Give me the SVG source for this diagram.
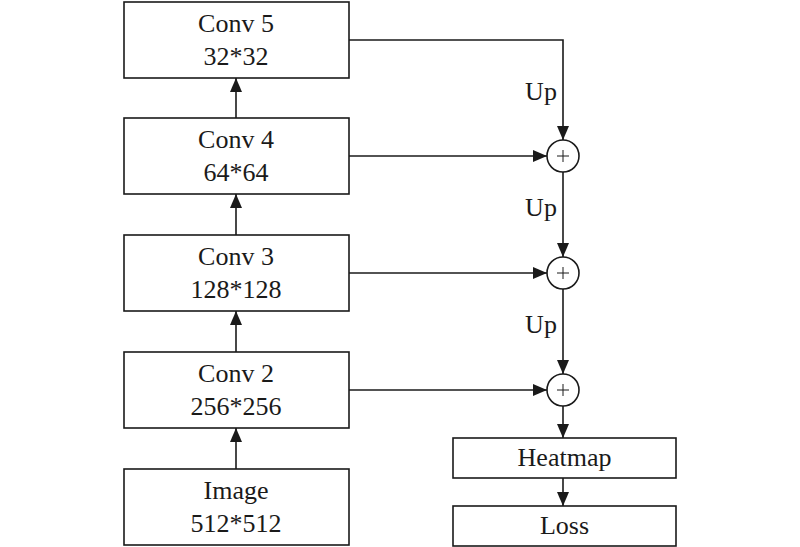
<svg xmlns="http://www.w3.org/2000/svg" width="800" height="547" viewBox="0 0 800 547">
<defs>
<style>
.box{fill:#fff;stroke:#1a1a1a;stroke-width:1.6}
.t{font-family:"Liberation Serif","Times New Roman",serif;font-size:26px;fill:#1a1a1a;text-anchor:middle}
.ln{fill:none;stroke:#1a1a1a;stroke-width:1.6}
.pl{fill:none;stroke:#1a1a1a;stroke-width:1}
</style>
<marker id="ah" viewBox="0 0 14 12" refX="14" refY="6" markerWidth="14" markerHeight="12" markerUnits="userSpaceOnUse" orient="auto">
<path d="M0,0 L14,6 L0,12 Z" fill="#1a1a1a"/>
</marker>
</defs>
<rect width="800" height="547" fill="#fff"/>
<g id="conv5"><rect class="box" x="124" y="2" width="225" height="76"/><text class="t" x="236" y="32">Conv 5</text><text class="t" x="236" y="65">32*32</text></g>
<g id="conv4"><rect class="box" x="124" y="118" width="225" height="76"/><text class="t" x="236" y="148">Conv 4</text><text class="t" x="236" y="181">64*64</text></g>
<g id="conv3"><rect class="box" x="124" y="235" width="225" height="76"/><text class="t" x="236" y="265">Conv 3</text><text class="t" x="236" y="298">128*128</text></g>
<g id="conv2"><rect class="box" x="124" y="352" width="225" height="76"/><text class="t" x="236" y="382">Conv 2</text><text class="t" x="236" y="415">256*256</text></g>
<g id="image"><rect class="box" x="124" y="469" width="225" height="76"/><text class="t" x="236" y="499">Image</text><text class="t" x="236" y="532">512*512</text></g>
<g id="add1"><circle class="ln" cx="563" cy="156" r="16" fill="#fff"/><path class="pl" d="M557,156 H569 M563,150 V162"/></g>
<g id="add2"><circle class="ln" cx="563" cy="273" r="16" fill="#fff"/><path class="pl" d="M557,273 H569 M563,267 V279"/></g>
<g id="add3"><circle class="ln" cx="563" cy="390" r="16" fill="#fff"/><path class="pl" d="M557,390 H569 M563,384 V396"/></g>
<g id="heatmap"><rect class="box" x="453" y="438" width="223" height="40"/><text class="t" x="564.5" y="466">Heatmap</text></g>
<g id="loss"><rect class="box" x="453" y="506" width="223" height="40"/><text class="t" x="564.5" y="534">Loss</text></g>
<g id="connectors">
<path class="ln" d="M236,469 V428" marker-end="url(#ah)"/>
<path class="ln" d="M236,352 V311" marker-end="url(#ah)"/>
<path class="ln" d="M236,235 V194" marker-end="url(#ah)"/>
<path class="ln" d="M236,118 V78" marker-end="url(#ah)"/>
<path class="ln" d="M349,40 H563 V140" marker-end="url(#ah)"/>
<path class="ln" d="M349,156 H547" marker-end="url(#ah)"/>
<path class="ln" d="M563,172 V257" marker-end="url(#ah)"/>
<path class="ln" d="M349,273 H547" marker-end="url(#ah)"/>
<path class="ln" d="M563,289 V374" marker-end="url(#ah)"/>
<path class="ln" d="M349,390 H547" marker-end="url(#ah)"/>
<path class="ln" d="M563,406 V438" marker-end="url(#ah)"/>
<path class="ln" d="M563,478 V506" marker-end="url(#ah)"/>
<text class="t" x="541" y="100">Up</text>
<text class="t" x="541" y="216">Up</text>
<text class="t" x="541" y="333">Up</text>
</g>
</svg>
